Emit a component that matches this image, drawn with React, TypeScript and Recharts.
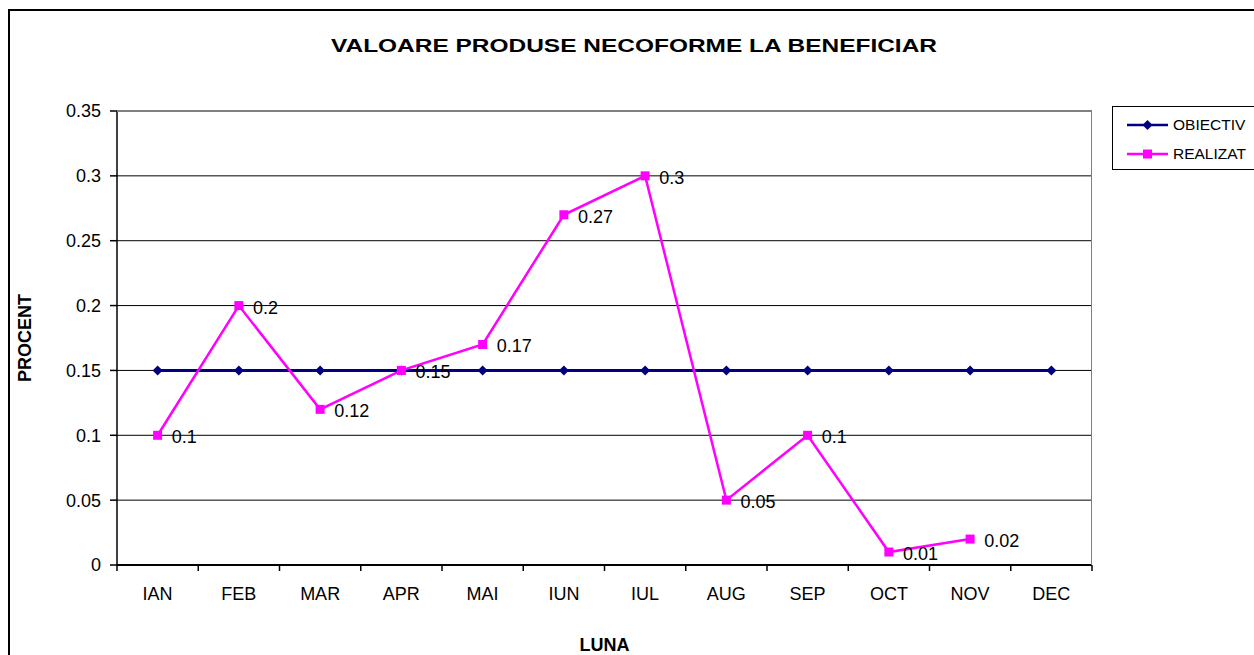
import { CartesianGrid, ComposedChart, LabelList, Line, XAxis, YAxis } from "recharts";

const months = ["IAN", "FEB", "MAR", "APR", "MAI", "IUN", "IUL", "AUG", "SEP", "OCT", "NOV", "DEC"];
const objectiv = [0.15, 0.15, 0.15, 0.15, 0.15, 0.15, 0.15, 0.15, 0.15, 0.15, 0.15, 0.15];
const realizat = [0.1, 0.2, 0.12, 0.15, 0.17, 0.27, 0.3, 0.05, 0.1, 0.01, 0.02, null];
const yTicks = [0, 0.05, 0.1, 0.15, 0.2, 0.25, 0.3, 0.35];

const W = 1254;
const H = 655;
const margin = { top: 111, right: 162, bottom: 0, left: 0 };
const yAxisWidth = 117;
const xAxisHeight = 90;
const plotLeft = margin.left + yAxisWidth;
const plotRight = W - margin.right;
const plotTop = margin.top;
const plotBottom = H - margin.bottom - xAxisHeight;
const halfBand = (plotRight - plotLeft) / months.length / 2;

const font = "'Liberation Sans', Arial, sans-serif";
const NAVY = "#000080";
const MAGENTA = "#FF00FF";

const data = months.map((m, i) => ({ month: m, objectiv: objectiv[i], realizat: realizat[i] }));

function Diamond(props: any) {
  const { cx, cy } = props;
  if (cx == null || cy == null) return null;
  const r = 5;
  return <path d={`M${cx},${cy - r}L${cx + r},${cy}L${cx},${cy + r}L${cx - r},${cy}Z`} fill={NAVY} />;
}

function Square(props: any) {
  const { cx, cy, payload } = props;
  if (cx == null || cy == null || payload?.realizat == null) return null;
  const r = 4.5;
  return <rect x={cx - r} y={cy - r} width={2 * r} height={2 * r} fill={MAGENTA} />;
}

function MonthTick(props: any) {
  const { x, payload, index } = props;
  const isLast = index === months.length - 1;
  return (
    <g>
      <line x1={x - halfBand} y1={plotBottom} x2={x - halfBand} y2={plotBottom + 6} stroke="#000" strokeWidth={1.5} />
      {isLast && (
        <line x1={x + halfBand} y1={plotBottom} x2={x + halfBand} y2={plotBottom + 6} stroke="#000" strokeWidth={1.5} />
      )}
      <text x={x} y={plotBottom + 35} textAnchor="middle" fontSize={18} fontFamily={font} fill="#000">
        {payload.value}
      </text>
    </g>
  );
}

function ValueLabel(props: any) {
  const { x, y, value } = props;
  if (value == null) return null;
  return (
    <text x={x + 14} y={y + 8} fontSize={18} fontFamily={font} fill="#000">
      {String(value)}
    </text>
  );
}

function LegendBox() {
  const items = [
    { name: "OBIECTIV", color: NAVY, marker: "diamond" },
    { name: "REALIZAT", color: MAGENTA, marker: "square" },
  ];
  return (
    <div
      style={{
        position: "absolute",
        left: 1112,
        top: 106,
        width: 200,
        height: 64,
        border: "1px solid #000",
        background: "#fff",
        boxSizing: "border-box",
        paddingTop: 3,
      }}
    >
      {items.map((it) => (
        <div key={it.name} style={{ display: "flex", alignItems: "center", height: 29 }}>
          <svg width={42} height={14} style={{ marginLeft: 14, flex: "none" }}>
            <line x1={0} y1={7} x2={41} y2={7} stroke={it.color} strokeWidth={2.5} />
            {it.marker === "diamond" ? (
              <path d="M20.5,2L25.5,7L20.5,12L15.5,7Z" fill={it.color} />
            ) : (
              <rect x={16} y={2.5} width={9} height={9} fill={it.color} />
            )}
          </svg>
          <span style={{ fontFamily: font, fontSize: 15.5, color: "#000", marginLeft: 4, whiteSpace: "nowrap" }}>
            {it.name}
          </span>
        </div>
      ))}
    </div>
  );
}

export default function App() {
  return (
    <div style={{ position: "absolute", left: 0, top: 0, width: W, height: H, overflow: "hidden", background: "#fff" }}>
      <div
        style={{
          position: "absolute",
          left: 8,
          top: 9,
          width: 1400,
          height: 800,
          border: "2px solid #000",
        }}
      />
      <svg style={{ position: "absolute", left: 0, top: 0 }} width={W} height={70}>
        <text
          x={634}
          y={51.5}
          textAnchor="middle"
          textLength={606}
          lengthAdjust="spacingAndGlyphs"
          fontFamily={font}
          fontWeight="bold"
          fontSize={18.5}
          fill="#000"
        >
          VALOARE PRODUSE NECOFORME LA BENEFICIAR
        </text>
      </svg>
      <div style={{ position: "absolute", left: 0, top: 0 }}>
        <ComposedChart width={W} height={H} data={data} margin={margin}>
          <CartesianGrid horizontal vertical={false} stroke="#000" strokeWidth={1} fill="none" />
          <XAxis
            dataKey="month"
            height={xAxisHeight}
            padding={{ left: halfBand, right: halfBand }}
            axisLine={{ stroke: "#000", strokeWidth: 2 }}
            tickLine={false}
            tick={MonthTick}
            interval={0}
            label={{
              value: "LUNA",
              position: "insideBottom",
              offset: 4,
              style: { fontFamily: font, fontWeight: "bold", fontSize: 18, fill: "#000" },
            }}
          />
          <YAxis
            width={yAxisWidth}
            domain={[0, 0.35]}
            ticks={yTicks}
            interval={0}
            tickSize={7}
            tickMargin={9}
            axisLine={{ stroke: "#000", strokeWidth: 1.5 }}
            tickLine={{ stroke: "#000", strokeWidth: 1.5 }}
            tick={{ fontFamily: font, fontSize: 18, fill: "#000" }}
            tickFormatter={(v) => String(v)}
            label={{
              content: (p: any) => {
                const vb = p.viewBox || {};
                const cy = (vb.y ?? plotTop) + (vb.height ?? plotBottom - plotTop) / 2;
                return (
                  <text
                    x={31}
                    y={cy}
                    transform={`rotate(-90 31 ${cy})`}
                    textAnchor="middle"
                    fontFamily={font}
                    fontWeight="bold"
                    fontSize={18}
                    fill="#000"
                  >
                    PROCENT
                  </text>
                );
              },
            }}
          />
          <Line
            name="OBIECTIV"
            dataKey="objectiv"
            stroke={NAVY}
            strokeWidth={3}
            dot={<Diamond />}
            activeDot={false}
            isAnimationActive={false}
          />
          <Line
            name="REALIZAT"
            dataKey="realizat"
            stroke={MAGENTA}
            strokeWidth={2.5}
            dot={<Square />}
            activeDot={false}
            isAnimationActive={false}
          >
            <LabelList dataKey="realizat" content={<ValueLabel />} />
          </Line>
        </ComposedChart>
      </div>
      <div
        style={{
          position: "absolute",
          left: plotLeft,
          top: plotTop,
          width: plotRight - plotLeft,
          height: plotBottom - plotTop,
          borderTop: "1px solid #808080",
          borderRight: "1px solid #808080",
          boxSizing: "border-box",
          pointerEvents: "none",
        }}
      />
      <LegendBox />
    </div>
  );
}
